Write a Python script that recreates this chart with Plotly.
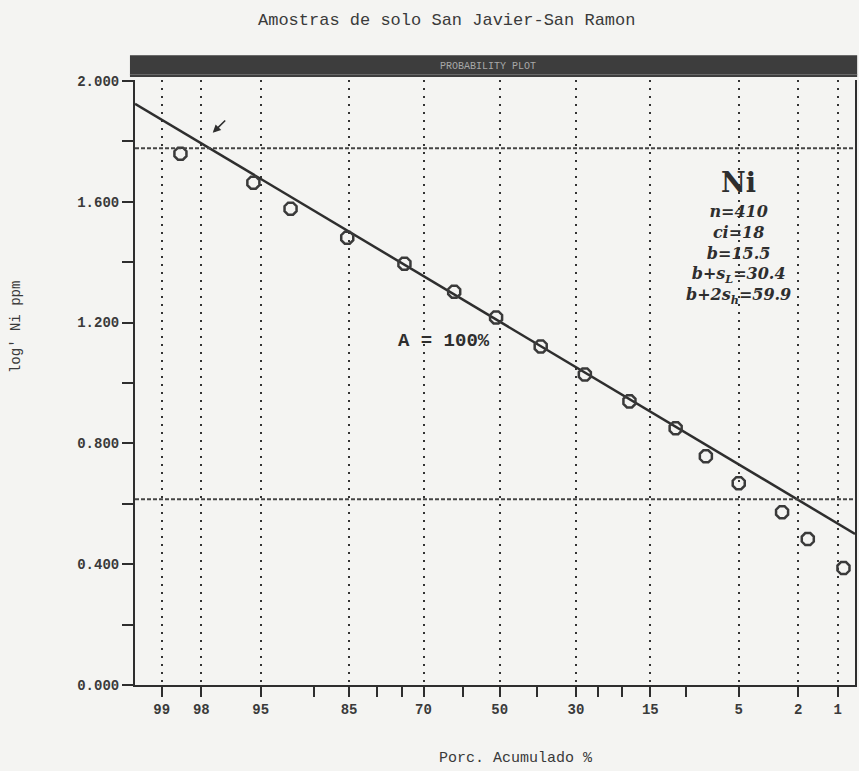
from statistics import NormalDist
import plotly.graph_objects as go

# Cumulative percentage (descending) and log10(Ni ppm) of each class boundary
cum_pct = [98.6, 95.5, 92.5, 85.3, 74.4, 62.3, 51.0, 38.9, 27.9, 18.6, 11.3, 7.8, 5.0, 2.6, 1.7, 0.9]
log_ni = [1.759, 1.663, 1.577, 1.481, 1.395, 1.302, 1.217, 1.121, 1.028, 0.939,
          0.850, 0.757, 0.668, 0.572, 0.483, 0.387]

# Fitted population line: log = intercept + slope * z
line_intercept = 1.203
line_slope = 0.2874

# Threshold levels (log10 ppm)
upper_threshold = 1.777
lower_threshold = 0.615

# Probability-axis ticks
major_pct = [99, 98, 95, 85, 70, 50, 30, 15, 5, 2, 1]
major_text = ["99", "98", "95", "85", "70", "50", "30", "15", "5", "2", "1"]
minor_pct = [90, 80, 75, 60, 40, 25, 20, 10]

y_major = [0.0, 0.4, 0.8, 1.2, 1.6, 2.0]
y_major_text = ["0.000", "0.400", "0.800", "1.200", "1.600", "2.000"]
y_minor = [0.2, 0.6, 1.0, 1.4, 1.8]

stats_lines = ["n=410", "ci=18", "b=15.5", "b+s<sub>L</sub>=30.4", "b+2s<sub>h</sub>=59.9"]

nd = NormalDist()
z = lambda p: nd.inv_cdf(p / 100.0)

INK = "#2e2e2e"
MARK = "#3a3a3a"
BG = "#f4f4f2"
MONO = "Liberation Mono, DejaVu Sans Mono, monospace"

x_range = [2.51, -2.445]
x_pts = [z(p) for p in cum_pct]

fig = go.Figure()

# fitted straight line across the whole plot width
line_x = [x_range[0], x_range[1]]
line_y = [line_intercept + line_slope * v for v in line_x]
fig.add_trace(go.Scatter(x=line_x, y=line_y, mode="lines",
                         line=dict(color=INK, width=2.5), hoverinfo="skip"))

# sample points
fig.add_trace(go.Scatter(x=x_pts, y=log_ni, mode="markers",
                         marker=dict(symbol="octagon-open", size=13, color=MARK,
                                     line=dict(color=MARK, width=2.5))))

# threshold lines
for lvl in (upper_threshold, lower_threshold):
    fig.add_shape(type="line", xref="paper", yref="y", x0=0, x1=1, y0=lvl, y1=lvl,
                  line=dict(color="#444444", width=2, dash="4px,2px"))

# header bar above the plot
fig.add_shape(type="rect", xref="paper", yref="paper", x0=-0.007, x1=1.003,
              y0=1.005, y1=1.041, fillcolor="#3d3d3d", line=dict(width=0), layer="above")
fig.add_shape(type="line", xref="paper", yref="paper", x0=-0.007, x1=1.003,
              y0=1.009, y1=1.009, line=dict(color="#6a6a6a", width=1), layer="above")
fig.add_annotation(x=0.49, y=1.023, xref="paper", yref="paper", text="PROBABILITY PLOT",
                   xanchor="center", yanchor="middle", showarrow=False,
                   font=dict(family=MONO, size=10, color="#a8a8a8"))

# title and axis titles
fig.add_annotation(x=0.432, y=1.099, xref="paper", yref="paper",
                   text="Amostras de solo San Javier-San Ramon", showarrow=False,
                   xanchor="center", yanchor="middle",
                   font=dict(family=MONO, size=17, color="#3a3a3a"))
fig.add_annotation(x=-0.165, y=0.592, xref="paper", yref="paper", text="log' Ni ppm",
                   textangle=-90, showarrow=False, xanchor="center", yanchor="middle",
                   font=dict(family=MONO, size=14, color="#3a3a3a"))
fig.add_annotation(x=0.529, y=-0.122, xref="paper", yref="paper", text="Porc. Acumulado %",
                   showarrow=False, xanchor="center", yanchor="middle",
                   font=dict(family=MONO, size=15, color="#3a3a3a"))

# population label
fig.add_annotation(x=0.382, y=1.140, xref="x", yref="y", text="<b>A = 100%</b>",
                   showarrow=False, xanchor="center", yanchor="middle",
                   font=dict(family=MONO, size=19, color=INK))

# element name and statistics
fig.add_annotation(x=0.838, y=0.830, xref="paper", yref="paper", text="<b>Ni</b>",
                   showarrow=False, xanchor="center", yanchor="middle",
                   font=dict(family="DejaVu Serif", size=27, color=INK))
fig.add_annotation(x=0.838, y=0.711, xref="paper", yref="paper",
                   text="<br>".join(f"<b><i>{s}</i></b>" for s in stats_lines),
                   showarrow=False, align="center", xanchor="center", yanchor="middle",
                   font=dict(family="DejaVu Serif", size=16, color=INK))

# arrow marking the upper threshold crossing
fig.add_annotation(x=1.975, y=1.828, ax=1.879, ay=1.874, xref="x", yref="y",
                   axref="x", ayref="y", text="", showarrow=True, arrowhead=2,
                   arrowsize=1, arrowwidth=1.6, arrowcolor=INK)

fig.update_xaxes(range=x_range, tickmode="array",
                 tickvals=[z(p) for p in major_pct], ticktext=major_text,
                 ticks="outside", ticklen=10, tickwidth=2, tickcolor=INK,
                 tickfont=dict(family=MONO, size=14, color="#3a3a3a", weight="bold"),
                 showgrid=True, gridcolor="#333333", gridwidth=2, griddash="2px,6px",
                 showline=True, linecolor=INK, linewidth=2, zeroline=False,
                 minor=dict(tickmode="array", tickvals=[z(p) for p in minor_pct],
                            ticks="outside", ticklen=10, tickwidth=2, tickcolor=INK,
                            showgrid=False))
fig.update_yaxes(range=[0, 2.003], tickmode="array", tickvals=y_major, ticktext=y_major_text,
                 ticks="outside", ticklen=11, tickwidth=2, tickcolor=INK,
                 tickfont=dict(family=MONO, size=14, color="#3a3a3a", weight="bold"),
                 showgrid=False, zeroline=False,
                 showline=True, linecolor=INK, linewidth=2, mirror=True,
                 minor=dict(tickmode="array", tickvals=y_minor, ticks="outside",
                            ticklen=11, tickwidth=2, tickcolor=INK, showgrid=False))

fig.update_layout(width=859, height=771, showlegend=False,
                  margin=dict(l=135, r=2, t=80, b=86),
                  paper_bgcolor=BG, plot_bgcolor=BG)

fig.write_html("out.html")
